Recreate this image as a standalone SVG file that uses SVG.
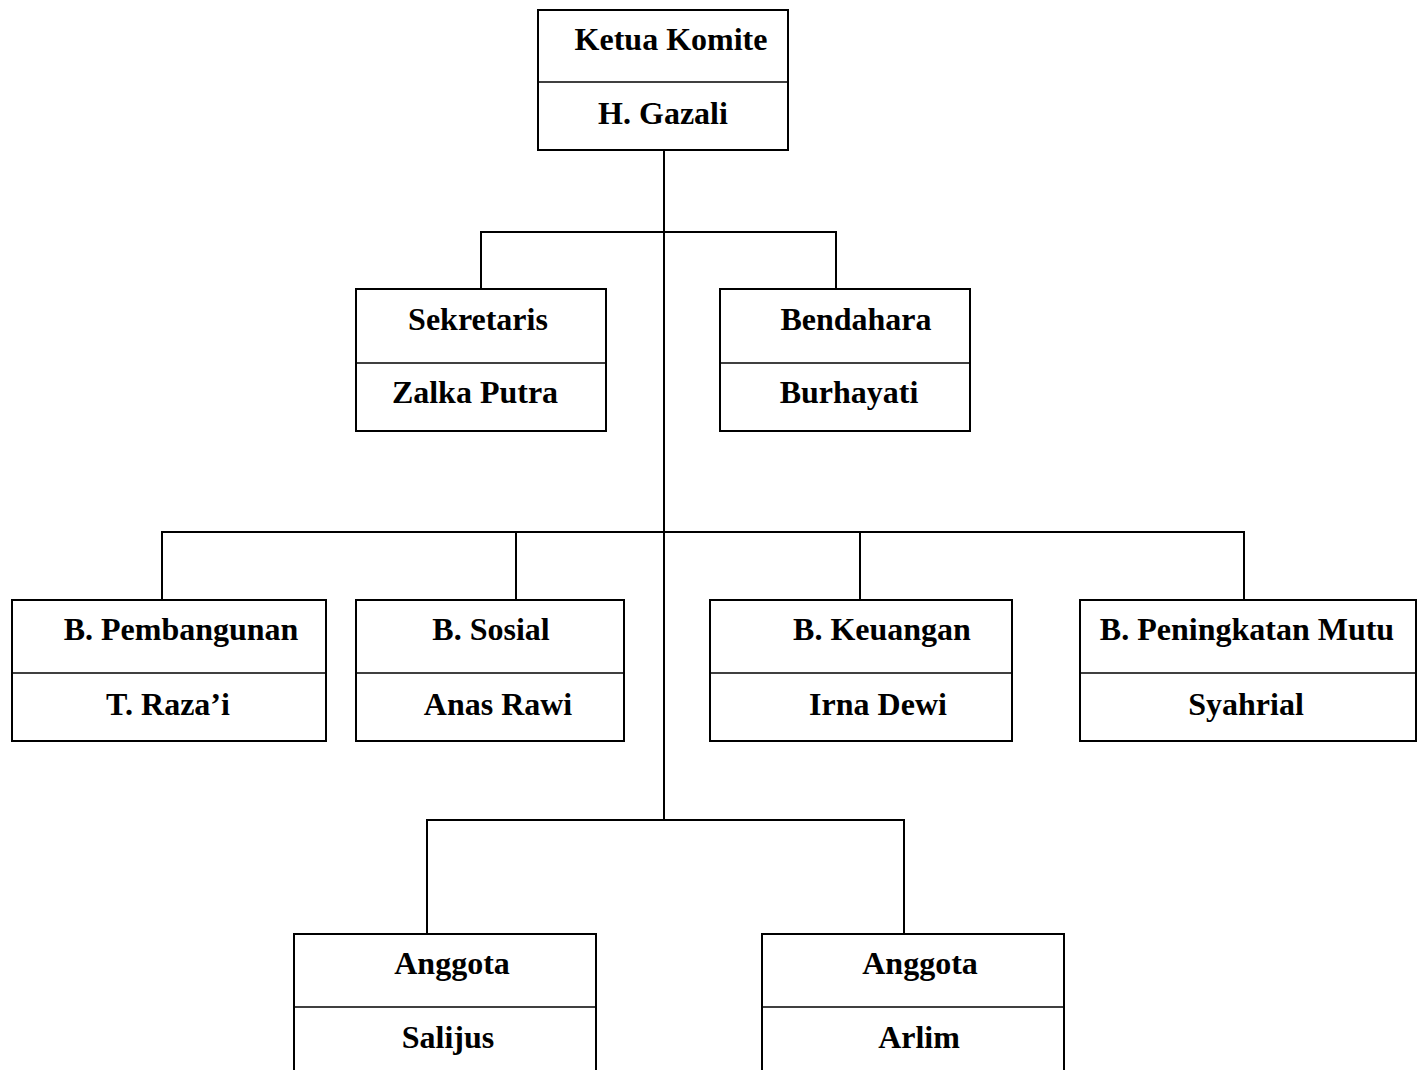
<svg xmlns="http://www.w3.org/2000/svg" width="1418" height="1070" viewBox="0 0 1418 1070">
<style>
.box{fill:#fff;stroke:#000;stroke-width:2}
.div{stroke:#000;stroke-width:1.5}
.con{fill:none;stroke:#000;stroke-width:2}
text{font-family:"Liberation Serif","Times New Roman",serif;font-weight:bold;font-size:32px;fill:#000;text-anchor:middle}
</style>
<rect width="1418" height="1070" fill="#fff"/>
<g id="connectors">
<path class="con" d="M664 150V820"/>
<path class="con" d="M481 289V232H836V289"/>
<path class="con" d="M162 600V532H1244V600M516 532V600M860 532V600"/>
<path class="con" d="M427 934V820H904V934"/>
</g>
<g id="ketua">
<rect class="box" x="538" y="10" width="250" height="140"/>
<line class="div" x1="538" y1="82" x2="788" y2="82"/>
<text x="671" y="50">Ketua Komite</text>
<text x="663" y="124">H. Gazali</text>
</g>
<g id="sekretaris">
<rect class="box" x="356" y="289" width="250" height="142"/>
<line class="div" x1="356" y1="363" x2="606" y2="363"/>
<text x="478" y="330">Sekretaris</text>
<text x="475" y="403">Zalka Putra</text>
</g>
<g id="bendahara">
<rect class="box" x="720" y="289" width="250" height="142"/>
<line class="div" x1="720" y1="363" x2="970" y2="363"/>
<text x="856" y="330">Bendahara</text>
<text x="849" y="403">Burhayati</text>
</g>
<g id="pembangunan">
<rect class="box" x="12" y="600" width="314" height="141"/>
<line class="div" x1="12" y1="673" x2="326" y2="673"/>
<text x="181" y="640">B. Pembangunan</text>
<text x="168" y="715">T. Raza’i</text>
</g>
<g id="sosial">
<rect class="box" x="356" y="600" width="268" height="141"/>
<line class="div" x1="356" y1="673" x2="624" y2="673"/>
<text x="491" y="640">B. Sosial</text>
<text x="498" y="715">Anas Rawi</text>
</g>
<g id="keuangan">
<rect class="box" x="710" y="600" width="302" height="141"/>
<line class="div" x1="710" y1="673" x2="1012" y2="673"/>
<text x="882" y="640">B. Keuangan</text>
<text x="878" y="715">Irna Dewi</text>
</g>
<g id="mutu">
<rect class="box" x="1080" y="600" width="336" height="141"/>
<line class="div" x1="1080" y1="673" x2="1416" y2="673"/>
<text x="1247" y="640">B. Peningkatan Mutu</text>
<text x="1246" y="715">Syahrial</text>
</g>
<g id="anggota1">
<rect class="box" x="294" y="934" width="302" height="150"/>
<line class="div" x1="294" y1="1007" x2="596" y2="1007"/>
<text x="452" y="974">Anggota</text>
<text x="448" y="1048">Salijus</text>
</g>
<g id="anggota2">
<rect class="box" x="762" y="934" width="302" height="150"/>
<line class="div" x1="762" y1="1007" x2="1064" y2="1007"/>
<text x="920" y="974">Anggota</text>
<text x="919" y="1048">Arlim</text>
</g>
</svg>
